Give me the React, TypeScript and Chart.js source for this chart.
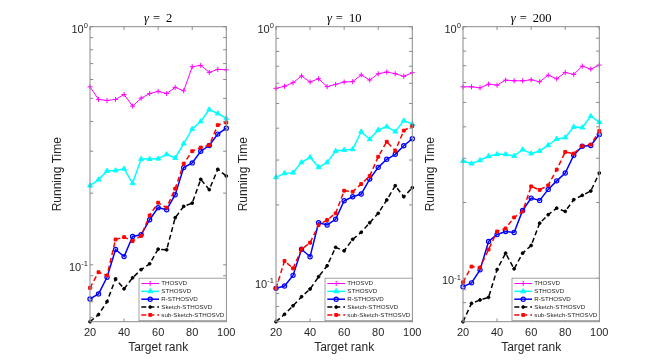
import React, { useEffect, useRef } from 'react';
import { Chart, registerables } from 'chart.js';

Chart.register(...registerables);

// ---------- data ----------
const ranks = [20, 25, 30, 35, 40, 45, 50, 55, 60, 65, 70, 75, 80, 85, 90, 95, 100];
const xTicks = [20, 40, 60, 80, 100];
const yLabelTicks = [0.1, 1];
const gammaLabels = ['2', '10', '200'];
const methodNames = ['THOSVD', 'STHOSVD', 'R-STHOSVD', 'Sketch-STHOSVD', 'sub-Sketch-STHOSVD'];

// gamma = 2
const thosvdG2 = [0.559, 0.495, 0.490, 0.495, 0.519, 0.464, 0.501, 0.524, 0.535, 0.524, 0.556, 0.538, 0.679, 0.688, 0.643, 0.662, 0.659];
const sthosvdG2 = [0.215, 0.228, 0.248, 0.249, 0.253, 0.220, 0.278, 0.278, 0.279, 0.291, 0.281, 0.323, 0.372, 0.400, 0.449, 0.432, 0.412];
const rsthosvdG2 = [0.0719, 0.0755, 0.0887, 0.116, 0.1083, 0.1316, 0.1337, 0.1547, 0.1738, 0.1704, 0.197, 0.256, 0.268, 0.300, 0.317, 0.354, 0.375];
const sketchG2 = [0.0577, 0.0618, 0.0701, 0.0873, 0.0793, 0.0882, 0.0955, 0.101, 0.1163, 0.1156, 0.1577, 0.176, 0.1816, 0.2286, 0.2069, 0.2518, 0.236];
const subSketchG2 = [0.080, 0.0931, 0.0902, 0.1278, 0.1307, 0.1257, 0.1324, 0.1612, 0.1824, 0.1738, 0.2089, 0.266, 0.300, 0.311, 0.318, 0.386, 0.396];

// gamma = 10
const thosvdG10 = [0.573, 0.584, 0.603, 0.641, 0.607, 0.625, 0.582, 0.594, 0.607, 0.609, 0.647, 0.618, 0.654, 0.664, 0.654, 0.639, 0.660];
const sthosvdG10 = [0.2567, 0.266, 0.2676, 0.2938, 0.3075, 0.281, 0.2938, 0.3255, 0.3285, 0.3305, 0.3877, 0.3618, 0.3937, 0.4056, 0.3877, 0.428, 0.4153];
const rsthosvdG10 = [0.0942, 0.0962, 0.1059, 0.134, 0.1253, 0.1703, 0.1669, 0.1757, 0.2078, 0.2154, 0.2207, 0.2527, 0.2809, 0.302, 0.316, 0.3415, 0.3637];
const sketchG10 = [0.0697, 0.0745, 0.0805, 0.0873, 0.0936, 0.1046, 0.1155, 0.1364, 0.1322, 0.1466, 0.1562, 0.1703, 0.1854, 0.2091, 0.2379, 0.2154, 0.2336];
const subSketchG10 = [0.0942, 0.1206, 0.1128, 0.1343, 0.1422, 0.1669, 0.1746, 0.1854, 0.2275, 0.2254, 0.2416, 0.2598, 0.3092, 0.354, 0.3264, 0.3912, 0.408];

// gamma = 200
const thosvdG200 = [0.5767, 0.5767, 0.5715, 0.5909, 0.5855, 0.6134, 0.6096, 0.6096, 0.6151, 0.604, 0.6419, 0.6205, 0.658, 0.6461, 0.6973, 0.6784, 0.7038];
const sthosvdG200 = [0.2925, 0.2856, 0.2944, 0.3054, 0.311, 0.311, 0.3062, 0.3248, 0.3131, 0.3207, 0.3379, 0.3579, 0.3626, 0.3996, 0.3974, 0.4407, 0.4171];
const rsthosvdG200 = [0.0926, 0.0959, 0.108, 0.14, 0.1493, 0.1535, 0.1521, 0.186, 0.2083, 0.204, 0.2256, 0.2439, 0.262, 0.3082, 0.3347, 0.3369, 0.3726];
const sketchG200 = [0.0672, 0.0795, 0.082, 0.084, 0.1083, 0.1258, 0.109, 0.1258, 0.135, 0.1656, 0.1789, 0.19, 0.1844, 0.2053, 0.2136, 0.2222, 0.262];
const subSketchG200 = [0.0964, 0.1113, 0.1103, 0.1301, 0.1535, 0.1578, 0.1745, 0.1844, 0.2319, 0.2246, 0.234, 0.2703, 0.3177, 0.3131, 0.3357, 0.34, 0.385];

const panelSeries = [
  [thosvdG2, sthosvdG2, rsthosvdG2, sketchG2, subSketchG2],
  [thosvdG10, sthosvdG10, rsthosvdG10, sketchG10, subSketchG10],
  [thosvdG200, sthosvdG200, rsthosvdG200, sketchG200, subSketchG200],
];

// ---------- layout & style ----------
const W = 664;
const H = 361;
const chartLefts = [90, 276, 463];
const chartWidth = 136.3;
const PLOT_TOP = 26.7;
const X_AXIS_H = 39.3;
const Y_AXIS_W = 40;
const SANS = '"Liberation Sans", Arial, Helvetica, sans-serif';
const SERIF = '"Liberation Serif", "DejaVu Serif", "Times New Roman", serif';
const TEXT = '#262626';
const AXIS = '#8a8a8a';
const TICK = 3.2;

const styles = [
  { color: '#ff00ff', width: 1, dash: [] as number[], marker: 'cross', radius: 2.5, bw: 1, fill: false },
  { color: '#00ffff', width: 1.5, dash: [] as number[], marker: 'triangle', radius: 2.8, bw: 1, fill: true },
  { color: '#0000ff', width: 1.5, dash: [] as number[], marker: 'circle', radius: 2.1, bw: 1.2, fill: false },
  { color: '#000000', width: 1.5, dash: [5, 3], marker: 'circle', radius: 1.4, bw: 1, fill: true },
  { color: '#ff0000', width: 1.5, dash: [5, 3], marker: 'rect', radius: 2, bw: 1, fill: true },
];

function drawMarker(ctx: CanvasRenderingContext2D, s: any, x: number, y: number) {
  ctx.save();
  ctx.setLineDash([]);
  ctx.strokeStyle = s.color;
  ctx.fillStyle = s.fill ? s.color : 'rgba(0,0,0,0)';
  ctx.lineWidth = s.bw;
  ctx.beginPath();
  const r = s.radius;
  if (s.marker === 'cross') {
    ctx.moveTo(x - r, y); ctx.lineTo(x + r, y);
    ctx.moveTo(x, y - r); ctx.lineTo(x, y + r);
    ctx.stroke();
  } else if (s.marker === 'triangle') {
    ctx.moveTo(x, y - r);
    ctx.lineTo(x + r * 0.866, y + r * 0.5);
    ctx.lineTo(x - r * 0.866, y + r * 0.5);
    ctx.closePath();
    ctx.fill(); ctx.stroke();
  } else if (s.marker === 'circle') {
    ctx.arc(x, y, r, 0, Math.PI * 2);
    if (s.fill) ctx.fill();
    ctx.stroke();
  } else {
    const h = r * Math.SQRT1_2;
    ctx.rect(x - h, y - h, 2 * h, 2 * h);
    ctx.fill(); ctx.stroke();
  }
  ctx.restore();
}

function makeDecor(panel: number) {
  return {
    id: 'decor' + panel,
    afterDraw(chart: any) {
      const ctx: CanvasRenderingContext2D = chart.ctx;
      const { left, right, top, bottom } = chart.chartArea;
      const xs = chart.scales.x;
      const ys = chart.scales.y;
      ctx.save();
      // frame
      ctx.strokeStyle = AXIS;
      ctx.lineWidth = 1;
      ctx.strokeRect(left, top, right - left, bottom - top);
      // inward ticks
      ctx.beginPath();
      for (const v of xTicks) {
        const px = xs.getPixelForValue(v);
        ctx.moveTo(px, bottom); ctx.lineTo(px, bottom - TICK);
        ctx.moveTo(px, top); ctx.lineTo(px, top + TICK);
      }
      const ymin = ys.min, ymax = ys.max;
      for (let e = Math.floor(Math.log10(ymin)); e <= Math.ceil(Math.log10(ymax)); e++) {
        for (let k = 1; k <= 9; k++) {
          const v = k * Math.pow(10, e);
          if (v < ymin * 0.9999 || v > ymax * 1.0001) continue;
          const py = ys.getPixelForValue(v);
          ctx.moveTo(left, py); ctx.lineTo(left + TICK, py);
          ctx.moveTo(right, py); ctx.lineTo(right - TICK, py);
        }
      }
      ctx.stroke();

      // y tick labels 10^k
      ctx.fillStyle = TEXT;
      ctx.textAlign = 'left';
      ctx.textBaseline = 'alphabetic';
      for (const v of yLabelTicks) {
        const py = ys.getPixelForValue(v);
        const sup = String(Math.round(Math.log10(v)));
        ctx.font = `7.5px ${SANS}`;
        const sw = ctx.measureText(sup).width;
        ctx.font = `11px ${SANS}`;
        const bw = ctx.measureText('10').width;
        const xr = left - 2.2;
        ctx.fillText('10', xr - sw - bw, py + 6);
        ctx.font = `7.5px ${SANS}`;
        ctx.fillText(sup, xr - sw, py + 1.5);
      }

      // title  gamma = N
      const cx = (left + right) / 2;
      const fItal = `italic 12.5px ${SERIF}`;
      const fReg = `12.5px ${SERIF}`;
      ctx.fillStyle = '#000000';
      ctx.font = fItal;
      const gw = ctx.measureText('γ').width;
      ctx.font = fReg;
      const ew = ctx.measureText('=').width;
      const nw = ctx.measureText(gammaLabels[panel]).width;
      const g1 = 4, g2 = 6;
      const total = gw + g1 + ew + g2 + nw;
      let tx = cx - total / 2;
      const tb = 22.2;
      ctx.font = fItal; ctx.fillText('γ', tx, tb); tx += gw + g1;
      ctx.font = fReg; ctx.fillText('=', tx, tb); tx += ew + g2;
      ctx.fillText(gammaLabels[panel], tx, tb);

      // legend
      const lw = 87.3, lh = 42.5;
      const lx = right - lw, ly = bottom - 1 - lh;
      ctx.fillStyle = '#ffffff';
      ctx.fillRect(lx, ly, lw, lh);
      ctx.strokeStyle = AXIS;
      ctx.lineWidth = 0.8;
      ctx.strokeRect(lx, ly, lw, lh);
      ctx.font = `6.2px ${SANS}`;
      ctx.textBaseline = 'middle';
      methodNames.forEach((name, i) => {
        const s = styles[i];
        const y = ly + 5.3 + i * 7.85;
        ctx.save();
        ctx.strokeStyle = s.color;
        ctx.lineWidth = s.width;
        ctx.setLineDash(s.dash);
        ctx.beginPath();
        ctx.moveTo(lx + 2.3, y); ctx.lineTo(lx + 20, y);
        ctx.stroke();
        ctx.restore();
        drawMarker(ctx, s, lx + 11.2, y);
        ctx.fillStyle = TEXT;
        ctx.fillText(name, lx + 22.3, y);
      });
      ctx.restore();
    },
  };
}

function buildChart(canvas: HTMLCanvasElement, panel: number) {
  const series = panelSeries[panel];
  const ymin = Math.min(...series.map((s) => Math.min(...s)));
  const left = chartLefts[panel];
  const datasets = series.map((vals, i) => {
    const s = styles[i];
    return {
      label: methodNames[i],
      data: ranks.map((r, j) => ({ x: r, y: vals[j] })),
      borderColor: s.color,
      backgroundColor: s.color,
      borderWidth: s.width,
      borderDash: s.dash,
      pointStyle: s.marker,
      pointRadius: s.radius,
      pointBorderWidth: s.bw,
      pointBorderColor: s.color,
      pointBackgroundColor: s.fill ? s.color : 'rgba(0,0,0,0)',
      tension: 0,
      clip: false,
      order: 4 - i,
    };
  });
  return new Chart(canvas, {
    type: 'line',
    data: { datasets } as any,
    options: {
      animation: false,
      responsive: false,
      devicePixelRatio: 1,
      events: [],
      layout: {
        padding: { left: left - Y_AXIS_W, right: W - (left + chartWidth), top: PLOT_TOP, bottom: 0 },
      },
      plugins: {
        legend: { display: false },
        tooltip: { enabled: false },
        title: { display: false },
      },
      scales: {
        x: {
          type: 'linear',
          min: 20,
          max: 100,
          ticks: { stepSize: 20, color: TEXT, font: { family: SANS, size: 11 }, padding: 4.3, maxRotation: 0 },
          grid: { display: false, drawTicks: false },
          border: { display: false },
          title: { display: true, text: 'Target rank', color: TEXT, font: { family: SANS, size: 12 }, padding: { top: 0, bottom: 6.3 } },
          afterFit: (s: any) => { s.height = X_AXIS_H; s.paddingLeft = 0; s.paddingRight = 0; },
        },
        y: {
          type: 'logarithmic',
          min: ymin,
          max: 1,
          ticks: { display: false },
          grid: { display: false, drawTicks: false },
          border: { display: false },
          title: { display: true, text: 'Running Time', color: TEXT, font: { family: SANS, size: 12 }, padding: { top: 0.8, bottom: 0 } },
          afterFit: (s: any) => { s.width = Y_AXIS_W; s.paddingTop = 0; s.paddingBottom = 0; },
        },
      },
    } as any,
    plugins: [makeDecor(panel)],
  });
}

export default function App() {
  const r0 = useRef<HTMLCanvasElement>(null);
  const r1 = useRef<HTMLCanvasElement>(null);
  const r2 = useRef<HTMLCanvasElement>(null);
  const refs = [r0, r1, r2];
  useEffect(() => {
    const charts = refs.map((r, i) => buildChart(r.current as HTMLCanvasElement, i));
    return () => charts.forEach((c) => c.destroy());
  }, []);
  return (
    <div style={{ position: 'absolute', left: 0, top: 0, width: W, height: H, background: '#ffffff', overflow: 'hidden' }}>
      {refs.map((r, i) => (
        <canvas key={i} ref={r} width={W} height={H} style={{ position: 'absolute', left: 0, top: 0, width: W, height: H }} />
      ))}
    </div>
  );
}
